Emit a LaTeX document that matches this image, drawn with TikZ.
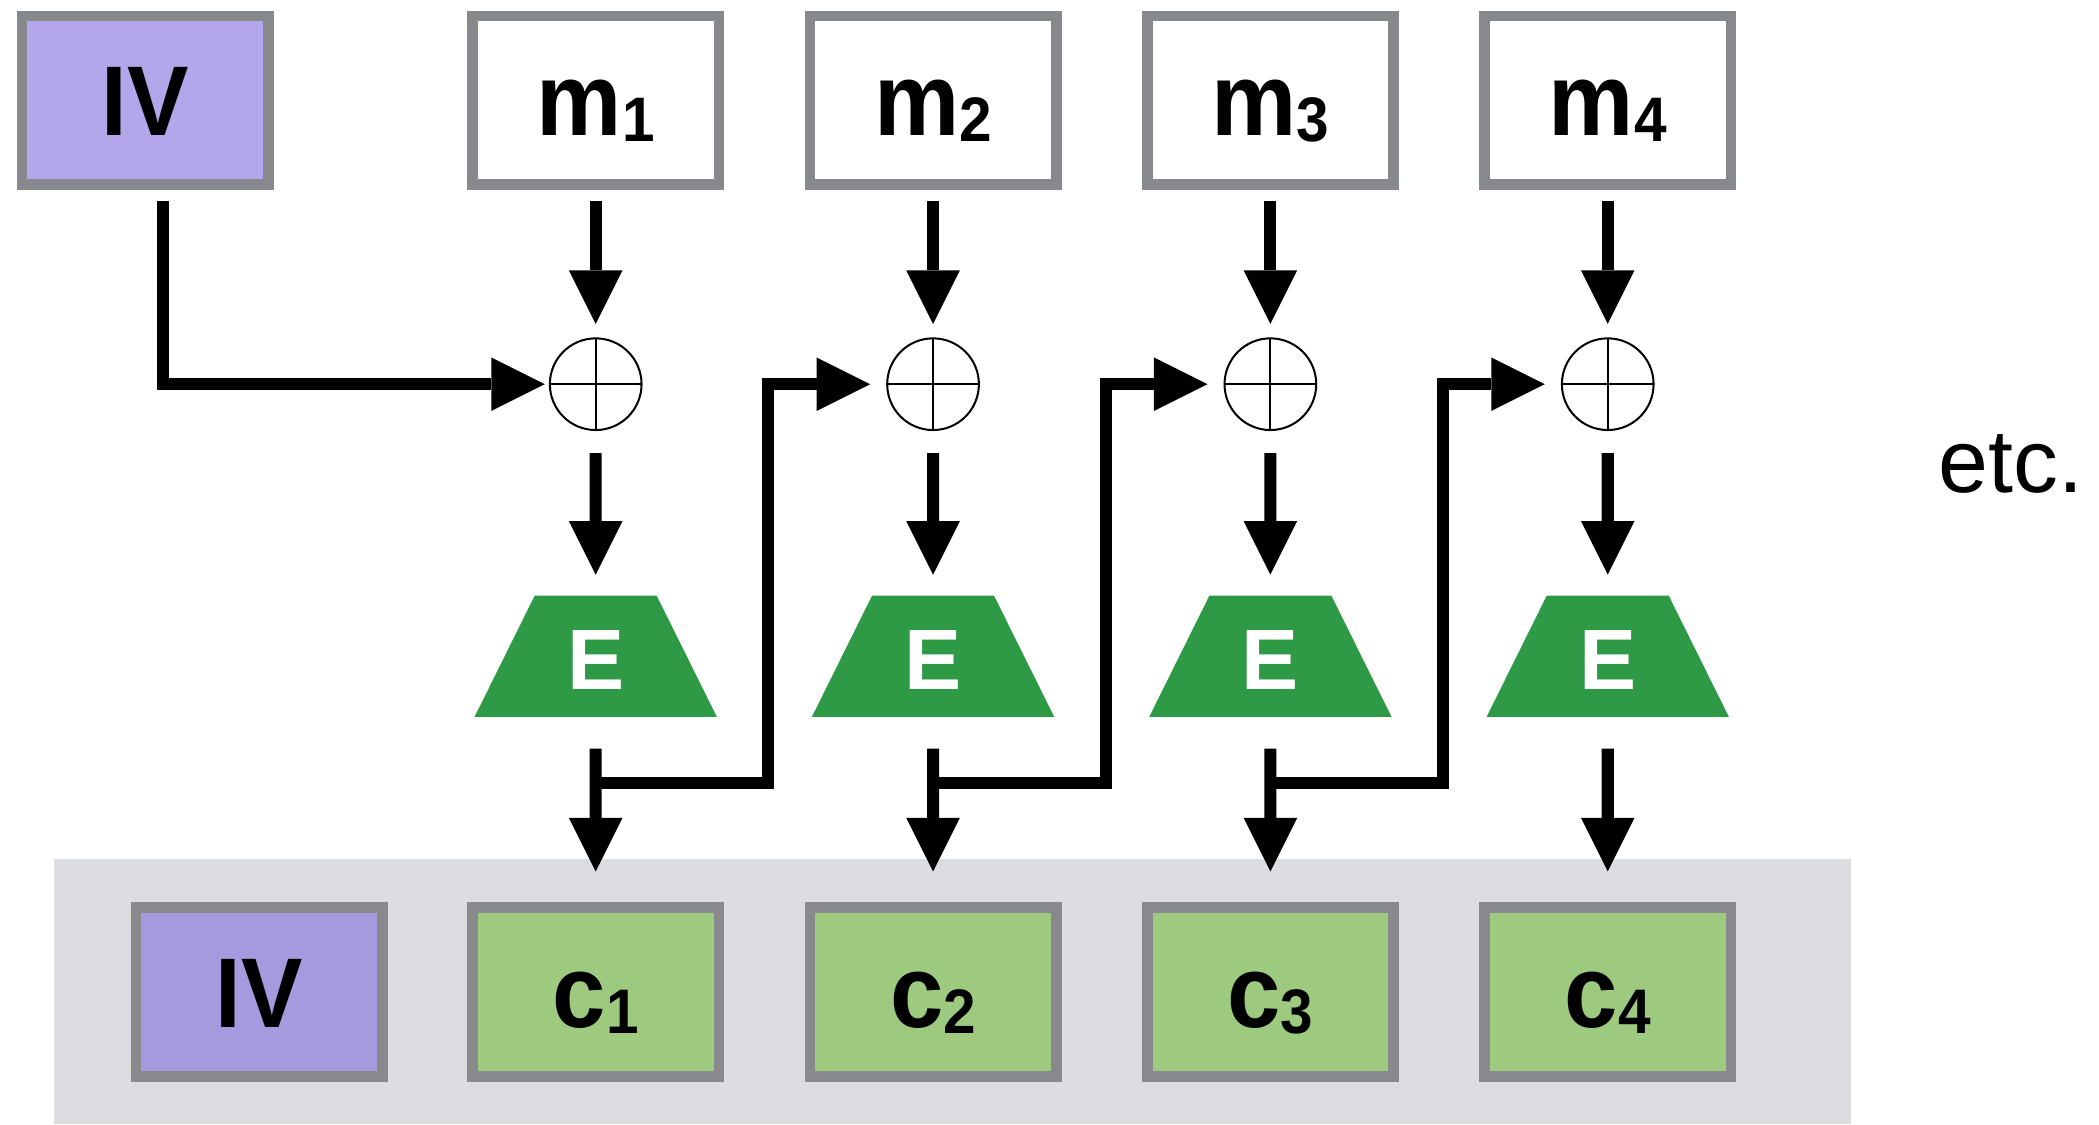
\documentclass[tikz,border=0pt]{standalone}
\usepackage{fontspec}
\usetikzlibrary{arrows.meta,shapes.geometric}
\newfontfamily\lblfont[FakeStretch=0.93]{Liberation Sans}
\newfontfamily\plainfont{Liberation Sans}

\definecolor{boxgray}{RGB}{135,137,140}
\definecolor{ivtop}{RGB}{179,166,234}
\definecolor{ivbot}{RGB}{166,154,222}
\definecolor{cgreen}{RGB}{157,202,127}
\definecolor{bandgray}{RGB}{220,221,224}
\definecolor{egreen}{RGB}{47,154,69}

% bold letter followed by a smaller, lowered index digit
\newcommand\blocklabel[2]{{\bfseries #1}{\fontsize{47}{50}\selectfont\bfseries\raisebox{-4.5pt}{#2}}}

\tikzset{
  blk/.style={rectangle, draw=boxgray, line width=8pt, minimum width=184pt,
    minimum height=126pt, inner sep=0pt, text height=53pt, text depth=0pt,
    font=\lblfont\fontsize{77}{80}\selectfont},
  ivlbl/.style={font=\lblfont\bfseries\fontsize{74}{78}\selectfont},
  xorc/.style={circle, draw, line width=1.5pt, minimum size=68.5pt, inner sep=0pt,
    path picture={\draw[line width=1.5pt]
      (path picture bounding box.north) -- (path picture bounding box.south)
      (path picture bounding box.west) -- (path picture bounding box.east);}},
  enc/.style={trapezium, trapezium left angle=63.6, trapezium right angle=63.6,
    trapezium stretches body, minimum width=181pt,
    inner sep=0pt, fill=egreen, text=white, text height=70.25pt, text depth=20.25pt,
    font=\plainfont\bfseries\fontsize{64}{66}\selectfont},
  arr/.style={line width=9pt, line join=miter,
    -{Triangle[length=40pt,width=40pt,line width=0pt]}}
}

\begin{document}
\begin{tikzpicture}[x=1pt,y=-1pt]
\useasboundingbox (0,0) rectangle (1568,840);

% output band
\fill[bandgray] (40,641.5) rectangle (1383,840);

% IV blocks
\node[blk, fill=ivtop, ivlbl] (ivt) at (108.5,75) {IV};
\node[blk, fill=ivbot, ivlbl] (ivb) at (193.5,741) {IV};

\foreach \i in {1,2,3,4}{
  \pgfmathsetmacro\cx{445+252*(\i-1)}
  \node[blk, fill=white] (m\i) at (\cx,75) {\blocklabel{m}{\i}};
  \node[xorc] (x\i) at (\cx,287) {};
  \node[enc] (e\i) at (\cx,490.25) {E};
  \node[blk, fill=cgreen] (c\i) at (\cx,741) {\blocklabel{c}{\i}};
  \coordinate (j\i) at (\cx,585);
  \coordinate (b\i) at (\cx+129,585);
  \draw[arr, shorten <=8pt, shorten >=10pt] (m\i) -- (x\i);
  \draw[arr, shorten <=16.5pt, shorten >=15.5pt] (x\i) -- (e\i);
  \draw[arr, shorten <=23.5pt, shorten >=23pt] (e\i) -- (c\i);
}

% IV into the first XOR
\draw[arr, shorten <=8pt] ([xshift=13.5pt]ivt.south) |- ([xshift=-3pt]x1.west);

% chaining: each ciphertext block feeds the next XOR
\foreach \i in {1,2,3}{
  \pgfmathtruncatemacro\n{\i+1}
  \draw[arr] (j\i) -- (b\i) |- ([xshift=-12pt]x\n.west);
}

\node[font=\plainfont\fontsize{67}{70}\selectfont, anchor=base west, inner sep=0pt]
  (etc) at (1448,368) {etc.};
\end{tikzpicture}
\end{document}
